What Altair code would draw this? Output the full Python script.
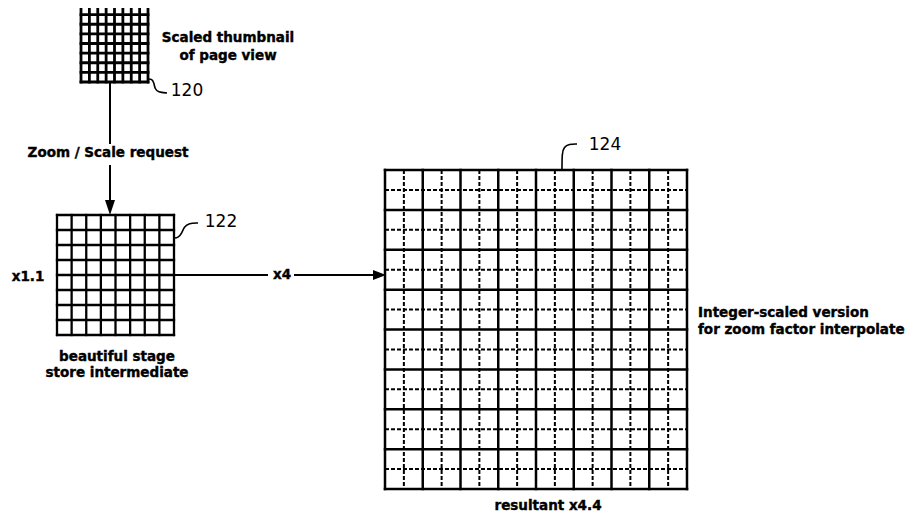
import altair as alt
import pandas as pd

# ---------------- data ----------------
# grids (pixel coordinates of the drawing)
GRID_NAMES = ["thumbnail", "intermediate", "resultant"]
GRID_LEFT = [81, 57, 385]
GRID_RIGHT = [148, 174, 687]
GRID_TOP = [5, 215, 170]
GRID_BOTTOM = [82, 335, 489]
GRID_COLS = [8, 8, 16]
GRID_ROWS = [8, 8, 16]
GRID_STROKE = [2.8, 2.3, 2.5]
GRID_DASHED_ODD = [False, False, True]

# arrow shafts
SHAFT_X = [110, 110, 174, 294]
SHAFT_Y = [82, 165, 275, 275]
SHAFT_X2 = [110, 110, 268, 375]
SHAFT_Y2 = [144, 201, 275, 275]

# arrow heads (tip positions)
HEAD_X = [110, 386]
HEAD_Y = [215, 275]
HEAD_SHAPE = ["M0,0L-1,-3L1,-3Z", "M0,0L-2.6,-1L-2.6,1Z"]

# bold captions, centred
CAP_TEXT = ["Scaled thumbnail", "of page view", "Zoom / Scale request", "x1.1", "x4",
            "beautiful stage", "store intermediate"]
CAP_X = [228, 228, 108, 28, 282, 117, 117]
CAP_Y = [38, 56, 153, 277, 275, 357, 373]

# bold caption at the bottom edge (alphabetic baseline)
BCAP_TEXT = ["resultant x4.4"]
BCAP_X = [548]
BCAP_Y = [510]

# bold captions, left aligned
LCAP_TEXT = ["Integer-scaled version", "for zoom factor interpolate"]
LCAP_X = [698, 698]
LCAP_Y = [313, 330]

# reference numerals
REF_TEXT = ["120", "122", "124"]
REF_X = [187, 221, 605]
REF_Y = [91, 222, 145]

# leader hooks
LEADER_ID = ["120"] * 6 + ["122"] * 6 + ["124"] * 5
LEADER_X = [148, 152, 154, 155, 158, 167,
            174, 178, 182, 184, 189, 198,
            562, 562, 564, 569, 577]
LEADER_Y = [79, 79, 83, 89, 92, 93,
            238, 238, 233, 227, 223, 223,
            170, 153, 147, 144, 144]

# ---------------- build tables ----------------
solid, dashed = [], []
for i in range(len(GRID_NAMES)):
    l, r, t, b = GRID_LEFT[i], GRID_RIGHT[i], GRID_TOP[i], GRID_BOTTOM[i]
    nc, nr = GRID_COLS[i], GRID_ROWS[i]
    for c in range(nc + 1):
        x = l + (r - l) * c / nc
        row = dict(x=x, y=t, x2=x, y2=b, w=GRID_STROKE[i])
        (dashed if GRID_DASHED_ODD[i] and c % 2 == 1 else solid).append(row)
    for k in range(nr + 1):
        y = t + (b - t) * k / nr
        row = dict(x=l, y=y, x2=r, y2=y, w=GRID_STROKE[i])
        (dashed if GRID_DASHED_ODD[i] and k % 2 == 1 else solid).append(row)

solid_df = pd.DataFrame(solid)
dashed_df = pd.DataFrame(dashed)
shaft_df = pd.DataFrame(dict(x=SHAFT_X, y=SHAFT_Y, x2=SHAFT_X2, y2=SHAFT_Y2))
head_df = pd.DataFrame(dict(x=HEAD_X, y=HEAD_Y, shape=HEAD_SHAPE))
cap_df = pd.DataFrame(dict(x=CAP_X, y=CAP_Y, t=CAP_TEXT))
bcap_df = pd.DataFrame(dict(x=BCAP_X, y=BCAP_Y, t=BCAP_TEXT))
lcap_df = pd.DataFrame(dict(x=LCAP_X, y=LCAP_Y, t=LCAP_TEXT))
ref_df = pd.DataFrame(dict(x=REF_X, y=REF_Y, t=REF_TEXT))
lead_df = pd.DataFrame(dict(id=LEADER_ID, x=LEADER_X, y=LEADER_Y,
                            o=list(range(len(LEADER_X)))))

xs = alt.Scale(domain=[8, 907], nice=False, zero=False)
ys = alt.Scale(domain=[8, 514], nice=False, zero=False, reverse=True)
X = alt.X("x:Q", scale=xs, axis=None)
Y = alt.Y("y:Q", scale=ys, axis=None)

solid_layer = alt.Chart(solid_df).mark_rule(color="black", strokeCap="square").encode(
    x=X, y=Y, x2="x2:Q", y2="y2:Q", size=alt.Size("w:Q", scale=None, legend=None))
dashed_layer = alt.Chart(dashed_df).mark_rule(color="black", strokeWidth=2,
                                               strokeDash=[4, 2]).encode(
    x=X, y=Y, x2="x2:Q", y2="y2:Q")
shaft_layer = alt.Chart(shaft_df).mark_rule(color="black", strokeWidth=2).encode(
    x=X, y=Y, x2="x2:Q", y2="y2:Q")
head_layer = alt.Chart(head_df).mark_point(filled=True, color="black", opacity=1,
                                           size=100, strokeWidth=0).encode(
    x=X, y=Y, shape=alt.Shape("shape:N", scale=None, legend=None))
lead_layer = alt.Chart(lead_df).mark_line(color="black", strokeWidth=1.6,
                                          interpolate="basis").encode(
    x=X, y=Y, detail="id:N", order="o:Q")

bold = dict(font="DejaVu Sans", fontWeight="bold", fontSize=13.5, color="black",
            stroke="black", strokeWidth=0.4)
cap_layer = alt.Chart(cap_df).mark_text(align="center", baseline="middle", **bold).encode(
    x=X, y=Y, text="t:N")
bcap_layer = alt.Chart(bcap_df).mark_text(align="center", baseline="alphabetic",
                                          **bold).encode(
    x=X, y=Y, text="t:N")
lcap_layer = alt.Chart(lcap_df).mark_text(align="left", baseline="middle", **bold).encode(
    x=X, y=Y, text="t:N")
ref_layer = alt.Chart(ref_df).mark_text(font="DejaVu Sans", fontSize=17,
                                        align="center", baseline="middle",
                                        color="black").encode(
    x=X, y=Y, text="t:N")

chart = alt.layer(solid_layer, dashed_layer, shaft_layer, head_layer, lead_layer,
                  cap_layer, bcap_layer, lcap_layer, ref_layer).properties(
    width=899, height=506, padding=0, autosize=alt.AutoSizeParams(type="none"),
    background="white"
).configure_view(stroke=None)

chart.save("out.html", embed_options={"renderer": "svg", "actions": False})
